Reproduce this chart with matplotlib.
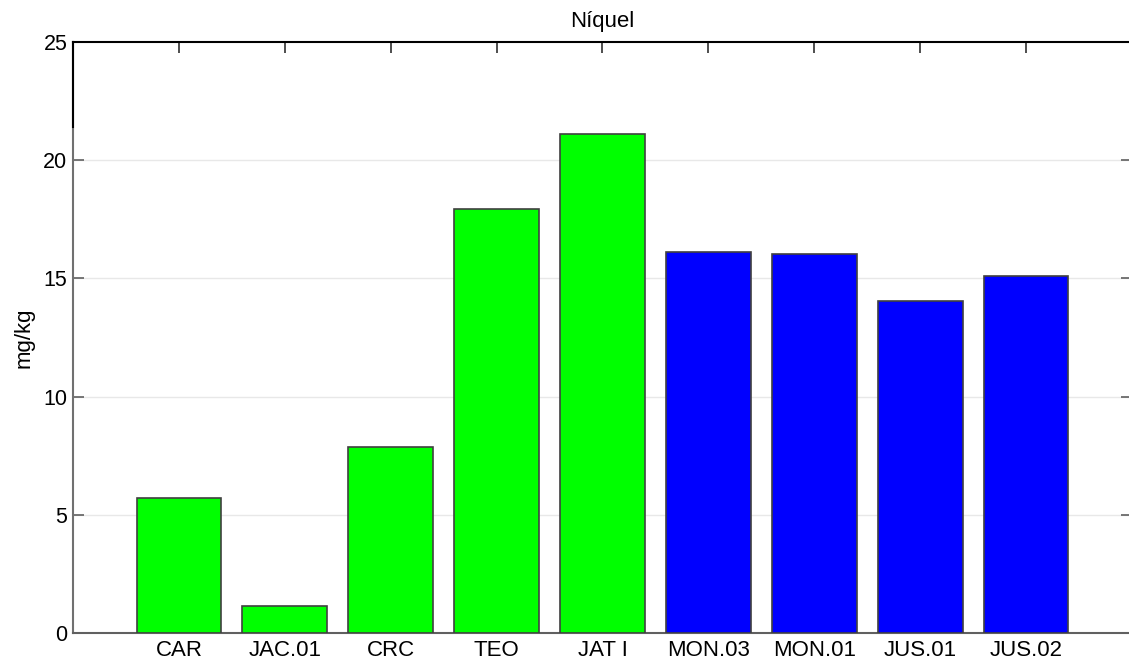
import numpy as np
import matplotlib.pyplot as plt

plt.rcParams['font.family'] = ['Liberation Sans', 'DejaVu Sans']

sites = ['CAR', 'JAC.01', 'CRC', 'TEO', 'JAT I', 'MON.03', 'MON.01', 'JUS.01', 'JUS.02']
nickel = [5.70, 1.14, 7.87, 17.94, 21.11, 16.10, 16.03, 14.04, 15.10]
group = ['g', 'g', 'g', 'g', 'g', 'b', 'b', 'b', 'b']
y_ticks = [0, 5, 10, 15, 20, 25]

colors = {'g': '#00ff00', 'b': '#0000ff'}

fig = plt.figure(figsize=(11.29, 6.65), dpi=100)
ax = fig.add_axes([73/1129, 32/665, 1059/1129, 591/665])

x = np.arange(1, len(sites) + 1)
ax.bar(x, nickel, width=0.8, color=[colors[g] for g in group],
       edgecolor='#404040', linewidth=1.2, zorder=3)

ax.set_xlim(0, 10)
ax.set_ylim(0, 25)
ax.set_xticks(x)
ax.set_xticklabels(sites, fontsize=16)
ax.set_yticks(y_ticks)
ax.set_yticklabels([str(v) for v in y_ticks], fontsize=15.5)

# light horizontal grid
for v in y_ticks[1:-1]:
    ax.axhline(v, color='#e8e8e8', linewidth=1.0, zorder=1)

ax.tick_params(axis='x', bottom=False, top=True, labelbottom=True,
               direction='in', length=8, width=1.2, color='#303030', pad=5)
ax.tick_params(axis='y', left=True, right=True, direction='in',
               length=8, width=1.2, color='#606060', pad=4)

ax.spines['top'].set_color('black')
ax.spines['top'].set_linewidth(1.5)
ax.spines['left'].set_color('#707070')
ax.spines['left'].set_linewidth(1.5)
ax.spines['bottom'].set_color('#606060')
ax.spines['bottom'].set_linewidth(1.5)
ax.spines['right'].set_color('black')
ax.plot([0, 0], [21.4, 25], color='black', linewidth=1.5, clip_on=False, zorder=5)

ax.set_title('Níquel', fontsize=16, pad=11)
ax.set_ylabel('mg/kg', fontsize=16, labelpad=6)

fig.savefig('out.png', dpi=100)
